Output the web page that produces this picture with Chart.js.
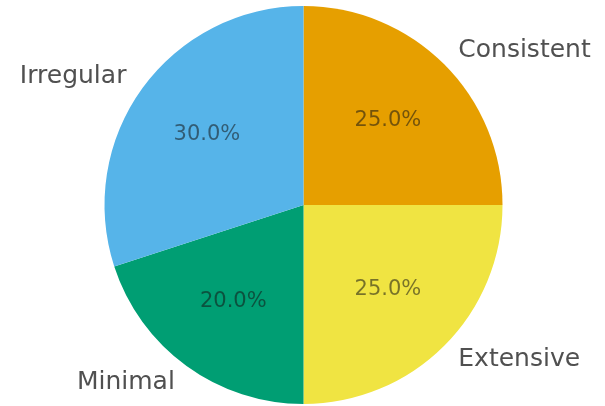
<!DOCTYPE html>
<html>
<head>
<meta charset="utf-8">
<script src="https://cdn.jsdelivr.net/npm/chart.js@4/dist/chart.umd.min.js"></script>
<style>
  html, body { margin: 0; padding: 0; background: #ffffff; }
  #wrap { width: 605px; height: 406px; }
</style>
</head>
<body>
<div id="wrap"><canvas id="pie" width="605" height="406"></canvas></div>
<script>
// Practice frequency shares, drawn clockwise from 12 o'clock
const categories = ['Consistent', 'Extensive', 'Minimal', 'Irregular'];
const shares = [25.0, 25.0, 20.0, 30.0];
const sliceColors = ['#E69F00', '#F0E442', '#009E73', '#56B4E9'];

// Writes each category name just outside its slice and the percentage inside it
const sliceLabels = {
  id: 'sliceLabels',
  afterDatasetsDraw(chart) {
    const ctx = chart.ctx;
    const meta = chart.getDatasetMeta(0);
    const total = shares.reduce((a, b) => a + b, 0);
    meta.data.forEach((arc, i) => {
      const p = arc.getProps(['x', 'y', 'startAngle', 'endAngle', 'outerRadius'], true);
      const mid = (p.startAngle + p.endAngle) / 2;
      const cos = Math.cos(mid), sin = Math.sin(mid);

      // category name at 1.1 radius
      const lx = p.x + cos * p.outerRadius * 1.1;
      const ly = p.y + sin * p.outerRadius * 1.1;
      ctx.save();
      ctx.font = '25px "DejaVu Sans"';
      ctx.fillStyle = '#505050';
      ctx.textBaseline = 'middle';
      ctx.textAlign = cos >= 0 ? 'left' : 'right';
      ctx.fillText(categories[i], lx, ly);

      // percentage at 0.6 radius
      const px = p.x + cos * p.outerRadius * 0.6;
      const py = p.y + sin * p.outerRadius * 0.6;
      ctx.font = '21px "DejaVu Sans"';
      ctx.fillStyle = 'rgba(20,20,20,0.55)';
      ctx.textAlign = 'center';
      ctx.fillText((shares[i] / total * 100).toFixed(1) + '%', px, py);
      ctx.restore();
    });
  }
};

new Chart(document.getElementById('pie'), {
  type: 'pie',
  data: {
    labels: categories,
    datasets: [{
      data: shares,
      backgroundColor: sliceColors,
      borderWidth: 0
    }]
  },
  options: {
    responsive: false,
    animation: false,
    rotation: 0,
    layout: { padding: { top: 6, bottom: 2, left: 104.5, right: 102.5 } },
    plugins: {
      legend: { display: false },
      tooltip: { enabled: false }
    }
  },
  plugins: [sliceLabels]
});
</script>
</body>
</html>
